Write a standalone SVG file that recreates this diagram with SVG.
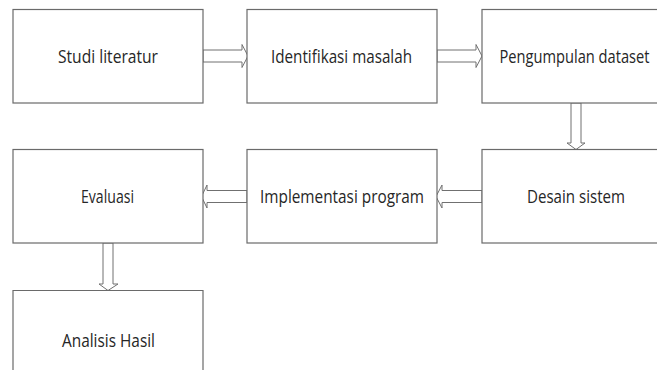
<svg xmlns="http://www.w3.org/2000/svg" width="657" height="378" viewBox="0 0 657 378">
<style>
.box{fill:#fff;stroke:#6a6a6a;stroke-width:1.2}
.arr{fill:#fff;stroke:#707070;stroke-width:1}
.lbl{font-family:"Open Sans","Liberation Sans",sans-serif;font-size:17.5px;fill:#262626;text-anchor:middle}
</style>
<rect width="657" height="378" fill="#fff"/>
<g id="connectors">
<polygon class="arr" points="203,50 242,50 242,44.5 248,56 242,67.5 242,62 203,62"/>
<polygon class="arr" points="437,50 476,50 476,44.5 482,56 476,67.5 476,62 437,62"/>
<polygon class="arr" points="571,103 581,103 581,143 585,143 576,149.5 567,143 571,143"/>
<polygon class="arr" points="482,190.5 442,190.5 442,185 436,196.5 442,208 442,202.5 482,202.5"/>
<polygon class="arr" points="247,190.5 207,190.5 207,185 201.5,196.5 207,208 207,202.5 247,202.5"/>
<polygon class="arr" points="103,243 113,243 113,284 118,284 108,290.5 99,284 103,284"/>
</g>
<g id="studi"><rect class="box" x="13" y="9.5" width="190" height="93.5"/><text class="lbl" x="108" y="63" textLength="100" lengthAdjust="spacingAndGlyphs">Studi literatur</text></g>
<g id="identifikasi"><rect class="box" x="247" y="9.5" width="190" height="93.5"/><text class="lbl" x="341.5" y="63" textLength="141" lengthAdjust="spacingAndGlyphs">Identifikasi masalah</text></g>
<g id="pengumpulan"><rect class="box" x="482" y="9.5" width="200" height="93.5"/><text class="lbl" x="574.5" y="63" textLength="150" lengthAdjust="spacingAndGlyphs">Pengumpulan dataset</text></g>
<g id="evaluasi"><rect class="box" x="13" y="149.5" width="190" height="93.5"/><text class="lbl" x="107.5" y="203" textLength="53" lengthAdjust="spacingAndGlyphs">Evaluasi</text></g>
<g id="implementasi"><rect class="box" x="247" y="149.5" width="190" height="93.5"/><text class="lbl" x="342" y="203" textLength="164" lengthAdjust="spacingAndGlyphs">Implementasi program</text></g>
<g id="desain"><rect class="box" x="482" y="149.5" width="200" height="93.5"/><text class="lbl" x="576" y="203" textLength="98" lengthAdjust="spacingAndGlyphs">Desain sistem</text></g>
<g id="analisis"><path class="box" d="M13,370 V290.5 H203 V370" fill="none"/><text class="lbl" x="108.5" y="347" textLength="93" lengthAdjust="spacingAndGlyphs">Analisis Hasil</text></g>
</svg>
